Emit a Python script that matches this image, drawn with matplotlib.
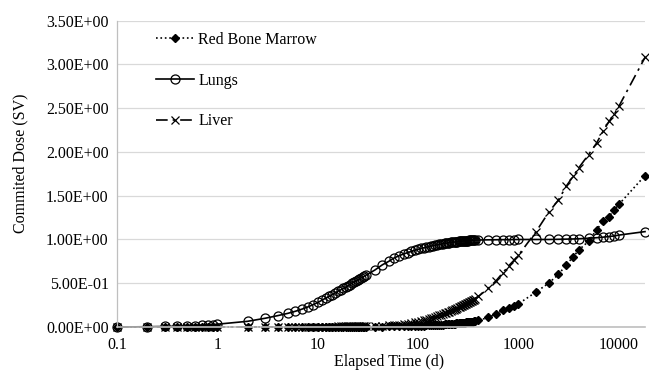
import matplotlib
matplotlib.use("Agg")
import matplotlib.pyplot as plt
from matplotlib.ticker import FixedLocator, FuncFormatter, NullLocator

# elapsed time (days)
days = [0.1, 0.2, 0.3, 0.4, 0.5, 0.6, 0.7, 0.8, 0.9, 1,
        2, 3, 4, 5, 6, 7, 8, 9, 10,
        11, 12, 13, 14, 15, 16, 17, 18, 19, 20,
        21, 22, 23, 24, 25, 26, 27, 28, 29, 30,
        37, 44, 51, 58, 65, 72, 79, 86, 93, 100,
        107, 114, 121, 128, 135, 142, 149, 156, 163, 170,
        177, 184, 191, 198, 205, 212, 219, 226, 233, 240,
        247, 254, 261, 268, 275, 282, 289, 296, 303, 310,
        317, 324, 331, 338, 345, 352, 359, 366,
        400, 500, 600, 700, 800, 900, 1000,
        1500, 2000, 2500, 3000, 3500, 4000, 5000,
        6000, 7000, 8000, 9000, 10000, 18250]

red_bone_marrow = [0, 0, 0, 0, 0, 0, 0, 0, 0, 0,
                   0.001, 0.001, 0.001, 0.001, 0.001, 0.001, 0.001, 0.001, 0.001,
                   0.002, 0.002, 0.002, 0.002, 0.002, 0.002, 0.002, 0.002, 0.002, 0.002,
                   0.003, 0.003, 0.003, 0.003, 0.003, 0.003, 0.003, 0.003, 0.003, 0.003,
                   0.004, 0.005, 0.006, 0.007, 0.008, 0.009, 0.010, 0.011, 0.012, 0.014,
                   0.015, 0.016, 0.018, 0.019, 0.020, 0.022, 0.023, 0.024, 0.026, 0.027,
                   0.028, 0.030, 0.031, 0.032, 0.034, 0.035, 0.036, 0.038, 0.039, 0.040,
                   0.042, 0.043, 0.044, 0.046, 0.047, 0.048, 0.050, 0.051, 0.052, 0.054,
                   0.055, 0.056, 0.058, 0.059, 0.060, 0.062, 0.063, 0.065,
                   0.075, 0.11, 0.15, 0.19, 0.22, 0.24, 0.265,
                   0.40, 0.50, 0.60, 0.71, 0.80, 0.88, 0.98,
                   1.11, 1.21, 1.26, 1.34, 1.40, 1.73]

lungs = [0.0, 0.003, 0.006, 0.009, 0.012, 0.016, 0.020, 0.024, 0.028, 0.032,
         0.065, 0.10, 0.13, 0.155, 0.18, 0.205, 0.23, 0.255, 0.28,
         0.305, 0.33, 0.35, 0.37, 0.39, 0.41, 0.425, 0.44, 0.455, 0.47,
         0.485, 0.50, 0.515, 0.53, 0.54, 0.55, 0.56, 0.57, 0.58, 0.59,
         0.65, 0.71, 0.75, 0.79, 0.815, 0.835, 0.85, 0.865, 0.878, 0.888,
         0.897, 0.905, 0.912, 0.918, 0.925, 0.93, 0.935, 0.94, 0.944, 0.948,
         0.952, 0.955, 0.958, 0.961, 0.964, 0.966, 0.968, 0.97, 0.972, 0.974,
         0.976, 0.978, 0.979, 0.981, 0.982, 0.983, 0.984, 0.985, 0.986, 0.987,
         0.988, 0.989, 0.99, 0.99, 0.991, 0.992, 0.992, 0.993,
         0.994, 0.996, 0.997, 0.998, 0.998, 0.999, 1.0,
         1.0, 1.0, 1.002, 1.004, 1.006, 1.008, 1.015,
         1.02, 1.027, 1.034, 1.04, 1.05, 1.09]

liver = [0, 0, 0, 0, 0, 0, 0, 0, 0, 0,
         0.001, 0.001, 0.002, 0.002, 0.002, 0.003, 0.003, 0.003, 0.004,
         0.004, 0.004, 0.005, 0.005, 0.005, 0.006, 0.006, 0.006, 0.007, 0.007,
         0.007, 0.008, 0.008, 0.008, 0.009, 0.009, 0.009, 0.010, 0.010, 0.011,
         0.013, 0.016, 0.020, 0.024, 0.028, 0.033, 0.038, 0.045, 0.052, 0.060,
         0.068, 0.076, 0.084, 0.092, 0.100, 0.108, 0.116, 0.124, 0.132, 0.140,
         0.148, 0.155, 0.162, 0.170, 0.177, 0.184, 0.190, 0.197, 0.204, 0.210,
         0.217, 0.223, 0.230, 0.236, 0.242, 0.248, 0.254, 0.260, 0.266, 0.272,
         0.278, 0.284, 0.290, 0.296, 0.302, 0.308, 0.314, 0.320,
         0.35, 0.44, 0.53, 0.62, 0.70, 0.76, 0.82,
         1.09, 1.31, 1.45, 1.61, 1.72, 1.82, 1.97,
         2.10, 2.24, 2.35, 2.43, 2.52, 3.08]

x_ticks = [0.1, 1, 10, 100, 1000, 10000]
y_ticks = [0, 0.5, 1.0, 1.5, 2.0, 2.5, 3.0, 3.5]

plt.rcParams['font.family'] = ['Liberation Serif', 'DejaVu Serif']
plt.rcParams['font.size'] = 11.5

fig = plt.figure(figsize=(6.49, 3.71), dpi=100)
ax = fig.add_axes([117/649, 1 - 327/371, (645 - 117)/649, (327 - 20.7)/371])

ax.plot(days, red_bone_marrow, ls=':', lw=1.2, color='black', marker='D',
        ms=4.5, mfc='black', mec='black', label='Red Bone Marrow', clip_on=False)
ax.plot(days, lungs, ls='-', lw=1.2, color='black', marker='o',
        ms=6.5, mfc='none', mec='black', mew=0.9, label='Lungs', clip_on=False)
ax.plot(days, liver, ls=(0, (7, 3, 1.5, 3)), lw=1.2, color='black', marker='x',
        ms=6, mew=0.9, label='Liver', clip_on=False)

ax.set_xscale('log')
ax.set_xlim(0.1, 18250)
ax.set_ylim(0, 3.5)
ax.xaxis.set_major_locator(FixedLocator(x_ticks))
ax.xaxis.set_minor_locator(NullLocator())
ax.xaxis.set_major_formatter(FuncFormatter(lambda v, p: '%g' % v))
ax.yaxis.set_major_locator(FixedLocator(y_ticks))
ax.yaxis.set_major_formatter(FuncFormatter(lambda v, p: '%.2E' % v))
ax.tick_params(length=0, pad=6)
ax.tick_params(axis='x', pad=7)

ax.grid(axis='y', color='#d9d9d9', lw=0.9)
ax.set_axisbelow(True)
for s in ['top', 'right']:
    ax.spines[s].set_visible(False)
ax.spines['left'].set_color('#bfbfbf')
ax.spines['left'].set_linewidth(0.9)
ax.spines['bottom'].set_color('#bfbfbf')
ax.spines['bottom'].set_linewidth(1.2)

ax.legend(loc='upper left', bbox_to_anchor=(148/649, 1 - 24/371),
          bbox_transform=fig.transFigure, frameon=False, handlelength=2.4,
          handletextpad=0.25, labelspacing=1.55, borderpad=0)

fig.text(20/649, 1 - 163/371, 'Commited Dose (SV)', rotation=90,
         ha='center', va='center')
fig.text(389/649, 1 - 362/371, 'Elapsed Time (d)', ha='center', va='center')

fig.savefig('out.png', dpi=100)
